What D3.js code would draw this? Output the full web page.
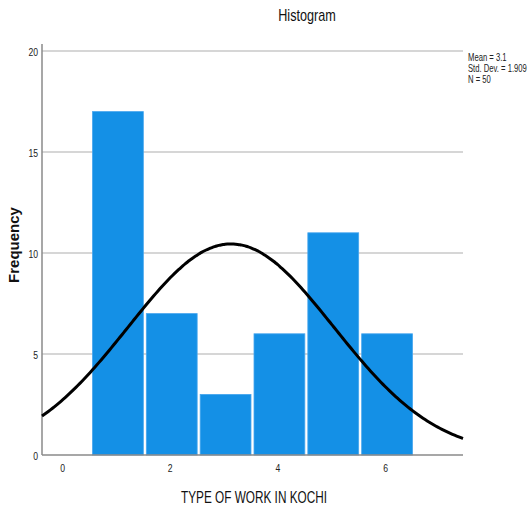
<!DOCTYPE html>
<html>
<head>
<meta charset="utf-8">
<script src="https://cdn.jsdelivr.net/npm/d3@7"></script>
<style>
  html, body { margin: 0; padding: 0; background: #fff; }
  svg { display: block; }
  text { font-family: "Liberation Sans", Arial, sans-serif; }
</style>
</head>
<body>
<svg id="chart" width="530" height="506"></svg>
<script>
// ---- data ----
const binCenters = [1, 2, 3, 4, 5, 6];
const frequencies = [17, 7, 3, 6, 11, 6];
const binWidth = 1;
const xTickValues = [0, 2, 4, 6];
const yTickValues = [0, 5, 10, 15, 20];
const meanValue = 3.1;
const stdDevValue = 1.909;
const nValue = 50;
const legendLines = ["Mean = 3.1", "Std. Dev. = 1.909", "N = 50"];
const chartTitle = "Histogram";
const xTitle = "TYPE OF WORK IN KOCHI";
const yTitle = "Frequency";

// ---- layout ----
const svg = d3.select("#chart");
const plotL = 42, plotR = 463, plotT = 44, plotB = 455;

const x = d3.scaleLinear().domain([-0.41, 7.41]).range([plotL, plotR]);
const y = d3.scaleLinear().domain([0, 20]).range([plotB, 51]);

// condensed text helper (narrow sans look)
function narrowText(parent, str, px, py, size, sx, anchor, fill) {
  return parent.append("text")
    .attr("transform", `translate(${px},${py}) scale(${sx},1)`)
    .attr("text-anchor", anchor)
    .attr("font-size", size)
    .attr("fill", fill || "#222")
    .text(str);
}

// gridlines
svg.append("g").selectAll("line")
  .data(yTickValues.filter(d => d > 0))
  .join("line")
  .attr("x1", plotL).attr("x2", plotR)
  .attr("y1", d => y(d)).attr("y2", d => y(d))
  .attr("stroke", "#d6d6d6").attr("stroke-width", 2);

// bars
const bars = binCenters.map((c, i) => ({ lo: c - binWidth / 2, hi: c + binWidth / 2, v: frequencies[i] }));
svg.append("g").selectAll("rect")
  .data(bars)
  .join("rect")
  .attr("x", d => x(d.lo) + 1.5)
  .attr("width", d => x(d.hi) - x(d.lo) - 3)
  .attr("y", d => y(d.v))
  .attr("height", d => y(0) - y(d.v))
  .attr("fill", "#1490e6")
  .attr("stroke", "#47a6ee")
  .attr("stroke-width", 0.8);

// axes lines
svg.append("line").attr("x1", plotL).attr("x2", plotL).attr("y1", plotT).attr("y2", plotB)
  .attr("stroke", "#8a8a8a").attr("stroke-width", 1.5);
svg.append("line").attr("x1", plotL).attr("x2", plotR).attr("y1", plotB).attr("y2", plotB)
  .attr("stroke", "#8a8a8a").attr("stroke-width", 1.5);

// normal curve (fitted from mean, sd, N)
const pdf = v => nValue * binWidth / (stdDevValue * Math.sqrt(2 * Math.PI)) *
  Math.exp(-((v - meanValue) ** 2) / (2 * stdDevValue ** 2));
const [d0, d1] = x.domain();
const curvePts = d3.range(0, 201).map(i => d0 + (d1 - d0) * i / 200);
svg.append("path")
  .datum(curvePts)
  .attr("d", d3.line().x(v => x(v)).y(v => y(pdf(v))).curve(d3.curveBasis))
  .attr("fill", "none").attr("stroke", "#000").attr("stroke-width", 3);

// y tick labels
const gy = svg.append("g");
yTickValues.forEach(d => narrowText(gy, d, 38, y(d) + 5, 11.5, 0.75, "end"));

// x tick labels
const gx = svg.append("g");
xTickValues.forEach(d => narrowText(gx, d, x(d) - 1.5, 472, 11.5, 0.75, "middle"));

// title
narrowText(svg, chartTitle, 307, 21, 16, 0.79, "middle", "#111");

// x title
narrowText(svg, xTitle, 254, 503, 16.5, 0.715, "middle", "#111");

// y title
svg.append("text")
  .attr("transform", "translate(19,245) rotate(-90)")
  .attr("text-anchor", "middle")
  .attr("font-weight", "bold").attr("font-size", 15).attr("fill", "#111")
  .text(yTitle);

// stats legend
const gl = svg.append("g");
legendLines.forEach((d, i) => narrowText(gl, d, 468, 61 + i * 11, 10.5, 0.73, "start"));
</script>
</body>
</html>
